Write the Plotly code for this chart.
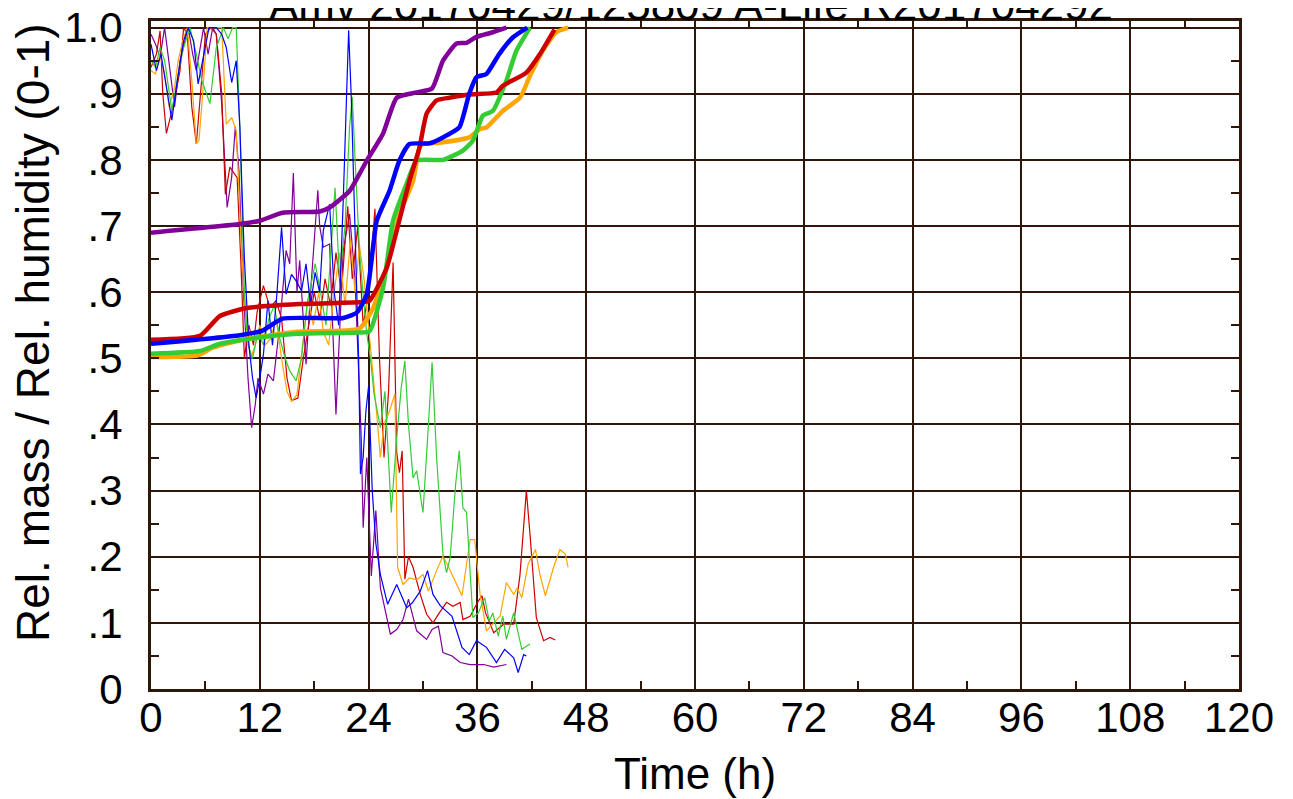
import plotly.graph_objects as go

# ---------------- data ----------------
# thick curves: relative mass
t_mass_purple = [0, 9.8, 12, 14.5, 18.6, 19.7, 21.9, 23, 23.8, 25.6, 27.1, 29.3, 31, 32.2, 33.7, 34.8, 35.9, 37.7, 39.2]
v_mass_purple = [0.69, 0.703, 0.708, 0.72, 0.722, 0.728, 0.753, 0.779, 0.799, 0.84, 0.894, 0.902, 0.908, 0.95, 0.976, 0.977, 0.986, 0.993, 1.0]

t_mass_red = [0, 5.4, 7.6, 10.6, 16.4, 23.4, 24.1, 26, 27.1, 28.5, 29.6, 30.4, 31.5, 32.9, 35.1, 38.1, 38.8, 41.4, 42.9, 44.5]
v_mass_red = [0.528, 0.534, 0.564, 0.576, 0.582, 0.585, 0.587, 0.637, 0.693, 0.768, 0.818, 0.87, 0.89, 0.894, 0.899, 0.902, 0.912, 0.932, 0.96, 0.997]

t_mass_blue = [0, 9.8, 12.3, 14.5, 21.2, 22.7, 23.8, 24.9, 26.3, 27.4, 28.5, 30.7, 32.2, 34, 35.1, 35.9, 37, 38.4, 39.9, 41.5]
v_mass_blue = [0.522, 0.535, 0.542, 0.56, 0.561, 0.569, 0.597, 0.708, 0.753, 0.799, 0.824, 0.825, 0.834, 0.849, 0.9, 0.925, 0.93, 0.96, 0.985, 1.0]

t_mass_green = [0, 5.4, 7.6, 11.7, 16.1, 23, 24.1, 25.6, 26.7, 28.2, 29.3, 32.2, 34.4, 35.5, 36.6, 37.7, 39.2, 40.3, 41.8]
v_mass_green = [0.507, 0.511, 0.522, 0.531, 0.537, 0.539, 0.541, 0.607, 0.708, 0.764, 0.799, 0.8, 0.814, 0.829, 0.867, 0.874, 0.92, 0.965, 1.0]

t_mass_orange = [0, 5.1, 6.8, 10.1, 16.1, 23, 24.5, 26, 27.4, 28.9, 29.6, 30, 31.8, 35.1, 36.3, 37, 38.8, 40.7, 41.8, 43.2, 44.7, 46]
v_mass_orange = [0.502, 0.504, 0.516, 0.528, 0.54, 0.545, 0.576, 0.637, 0.718, 0.768, 0.818, 0.824, 0.826, 0.834, 0.847, 0.849, 0.874, 0.894, 0.927, 0.965, 0.993, 1.0]

# thin curves: relative humidity
t_hum_red = [0, 0.6, 1.0, 1.3, 1.7, 2.5, 3.2, 3.6, 4.0, 4.5, 5.0, 5.5, 6.0, 6.6, 7.2, 7.8, 8.2, 8.7, 9.5, 9.9,
             10.3, 10.8, 11.3, 11.7, 12.4, 13.1, 13.8, 14.4, 15.0, 15.5, 16.2, 16.8, 17.4, 18.0, 18.6, 19.2, 19.8,
             20.4, 21.0, 21.7, 22.2, 22.8, 23.4, 24.0, 24.7, 25.2, 25.7, 26.2, 26.7, 27.1, 27.4, 27.7, 28.0, 28.4,
             28.9, 29.7, 30.4, 31.1, 31.8, 32.6, 33.3, 34.1, 34.4, 35.2, 36.1, 36.5, 36.9, 37.8, 38.9, 40.0, 40.7,
             41.4, 41.8, 42.5, 43.3, 44.0, 44.6]
v_hum_red = [0.94, 0.96, 0.995, 0.90, 0.84, 0.885, 0.935, 1.0, 0.99, 0.88, 0.824, 0.91, 0.99, 1.0, 0.99, 0.90, 0.748,
             0.789, 0.773, 0.65, 0.50, 0.55, 0.52, 0.57, 0.61, 0.577, 0.587, 0.56, 0.47, 0.436, 0.44, 0.50, 0.55,
             0.60, 0.56, 0.62, 0.58, 0.66, 0.60, 0.73, 0.62, 0.70, 0.55, 0.60, 0.726, 0.50, 0.35, 0.45, 0.645, 0.357,
             0.327, 0.36, 0.166, 0.20, 0.184, 0.143, 0.113, 0.10, 0.115, 0.131, 0.125, 0.131, 0.105, 0.11, 0.133,
             0.141, 0.115, 0.085, 0.098, 0.098, 0.173, 0.30, 0.234, 0.108, 0.073, 0.078, 0.074]

t_hum_orange = [0, 0.5, 1.0, 1.5, 2.0, 2.6, 3.0, 3.5, 4.0, 4.5, 5.0, 5.3, 5.7, 6.2, 7.0, 7.8, 8.3, 8.9, 9.4, 10.0,
                10.5, 11.0, 11.5, 12.0, 12.6, 13.2, 13.8, 14.4, 15.0, 15.5, 16.1, 16.7, 17.3, 17.9, 18.5, 19.0,
                19.6, 20.2, 20.8, 21.4, 22.0, 22.5, 23.0, 23.5, 24.0, 24.5, 24.9, 25.3, 25.7, 26.3, 26.9, 27.2,
                27.8, 28.5, 29.3, 30.0, 30.6, 31.5, 32.2, 32.8, 33.4, 34.3, 35.2, 35.7, 36.3, 37.0, 37.8, 38.5,
                39.2, 40.0, 40.4, 40.9, 41.6, 42.4, 42.9, 43.5, 44.4, 45.1, 45.7, 46.0]
v_hum_orange = [0.935, 0.93, 0.96, 0.93, 0.88, 0.91, 0.95, 0.98, 1.0, 0.92, 0.824, 0.83, 0.90, 1.0, 1.0, 1.0, 0.854,
                0.864, 0.844, 0.66, 0.55, 0.50, 0.52, 0.55, 0.52, 0.53, 0.56, 0.50, 0.45, 0.435, 0.445, 0.52,
                0.59, 0.55, 0.60, 0.54, 0.52, 0.60, 0.66, 0.58, 0.68, 0.60, 0.67, 0.62, 0.55, 0.48, 0.415, 0.35,
                0.40, 0.42, 0.446, 0.184, 0.158, 0.168, 0.165, 0.173, 0.148, 0.179, 0.201, 0.185, 0.168, 0.141,
                0.226, 0.226, 0.143, 0.088, 0.10, 0.11, 0.161, 0.143, 0.153, 0.138, 0.189, 0.211, 0.173, 0.141,
                0.184, 0.211, 0.204, 0.184]

t_hum_green = [0, 0.5, 1.0, 1.5, 2.3, 3.0, 3.6, 4.3, 5.0, 5.6, 6.5, 7.2, 8.0, 8.5, 9.0, 9.4, 9.8, 10.3, 10.7, 11.2,
               11.8, 12.4, 13.0, 13.6, 14.2, 14.8, 15.3, 16.0, 16.6, 17.2, 18.1, 18.7, 19.3, 19.8, 20.3, 20.8,
               21.4, 21.9, 22.2, 22.5, 23.0, 23.5, 23.8, 24.2, 24.6, 25.3, 25.8, 26.5, 27.1, 27.6, 28.0, 28.4,
               28.9, 29.3, 30.0, 30.6, 31.0, 31.5, 32.2, 32.6, 33.0, 33.6, 34.0, 34.4, 34.8, 35.5, 36.1, 36.8,
               37.3, 37.7, 38.3, 38.8, 39.2, 40.0, 40.9, 41.8]
v_hum_green = [0.95, 0.94, 0.97, 0.95, 0.875, 0.93, 0.97, 1.0, 0.96, 0.92, 0.885, 0.97, 1.0, 0.983, 1.0, 1.0, 0.85,
               0.60, 0.52, 0.50, 0.54, 0.52, 0.56, 0.58, 0.53, 0.50, 0.481, 0.466, 0.50, 0.58, 0.643, 0.60, 0.55,
               0.66, 0.758, 0.62, 0.70, 0.85, 0.895, 0.804, 0.66, 0.58, 0.537, 0.50, 0.446, 0.395, 0.45, 0.267,
               0.38, 0.456, 0.496, 0.40, 0.319, 0.33, 0.267, 0.40, 0.494, 0.35, 0.204, 0.176, 0.199, 0.31, 0.36,
               0.274, 0.267, 0.108, 0.115, 0.138, 0.103, 0.115, 0.08, 0.11, 0.075, 0.115, 0.06, 0.068]

t_hum_blue = [0, 0.3, 0.6, 1.1, 1.7, 2.3, 2.9, 3.6, 4.1, 4.7, 5.2, 5.8, 6.4, 7.2, 7.8, 8.3, 8.9, 9.4, 9.8, 10.3,
              10.8, 11.2, 11.6, 12.0, 12.4, 12.9, 13.4, 13.9, 14.4, 14.9, 15.5, 16.0, 16.6, 17.1, 17.6, 18.1,
              18.6, 19.0, 19.7, 20.2, 20.7, 21.2, 21.8, 22.1, 22.5, 22.9, 23.1, 23.4, 23.7, 24.0, 24.4, 24.8,
              25.3, 26.1, 27.1, 28.2, 28.8, 29.7, 30.5, 31.1, 31.9, 33.2, 34.3, 35.1, 35.9, 37.0, 38.1, 39.0,
              40.0, 40.5, 41.1, 41.4]
v_hum_blue = [0.975, 0.955, 0.935, 0.96, 0.91, 0.86, 0.92, 0.98, 1.0, 0.98, 0.915, 0.955, 1.0, 1.0, 0.99, 0.97,
              0.917, 0.95, 0.85, 0.65, 0.52, 0.47, 0.44, 0.47, 0.506, 0.587, 0.52, 0.60, 0.698, 0.597, 0.627,
              0.617, 0.602, 0.643, 0.58, 0.63, 0.60, 0.693, 0.733, 0.60, 0.55, 0.738, 0.996, 0.89, 0.70, 0.50,
              0.325, 0.35, 0.42, 0.458, 0.30, 0.22, 0.173, 0.128, 0.158, 0.123, 0.13, 0.148, 0.179, 0.143, 0.126,
              0.11, 0.063, 0.052, 0.073, 0.063, 0.04, 0.06, 0.047, 0.025, 0.052, 0.05]

t_hum_purple = [0, 0.5, 1.0, 1.5, 2.1, 2.6, 3.2, 4.1, 4.6, 5.0, 5.8, 6.3, 6.8, 7.2, 7.8, 8.2, 8.4, 8.9, 9.3, 9.7,
                10.2, 10.7, 11.1, 11.5, 11.8, 12.4, 12.9, 13.5, 14.2, 14.9, 15.3, 15.7, 16.1, 16.4, 17.1, 17.6,
                18.0, 18.4, 18.6, 19.0, 19.7, 20.4, 21.2, 21.9, 22.5, 23.2, 23.4, 23.8, 24.3, 24.8, 25.3, 25.8,
                26.4, 27.1, 27.8, 28.4, 29.3, 30.4, 31.0, 31.7, 32.2, 33.2, 34.1, 35.2, 36.7, 37.8, 38.5, 39.2]
v_hum_purple = [0.99, 0.975, 0.955, 1.0, 0.935, 0.88, 0.95, 1.0, 0.96, 0.935, 1.0, 0.96, 1.0, 0.99, 0.885, 0.784,
                0.728, 0.774, 0.85, 0.784, 0.60, 0.47, 0.395, 0.43, 0.47, 0.446, 0.476, 0.466, 0.55, 0.663, 0.643,
                0.78, 0.60, 0.648, 0.491, 0.60, 0.68, 0.754, 0.70, 0.668, 0.673, 0.415, 0.663, 0.718, 0.62, 0.375,
                0.244, 0.35, 0.171, 0.27, 0.153, 0.123, 0.083, 0.09, 0.105, 0.136, 0.088, 0.075, 0.09, 0.095, 0.055,
                0.05, 0.04, 0.037, 0.037, 0.033, 0.035, 0.037]

x_tick_vals = [0, 12, 24, 36, 48, 60, 72, 84, 96, 108, 120]
y_tick_vals = [0, 0.1, 0.2, 0.3, 0.4, 0.5, 0.6, 0.7, 0.8, 0.9, 1.0]
y_tick_text = ["0", ".1", ".2", ".3", ".4", ".5", ".6", ".7", ".8", ".9", "1.0"]

title_text = "Amv 20170429/125809 A-Life R201704292"
x_title = "Time (h)"
y_title = "Rel. mass / Rel. humidity (0-1)"

# ---------------- styles ----------------
C_RED = "#cc0000"
C_ORANGE = "#ffa500"
C_GREEN = "#33cc33"
C_BLUE = "#0000ff"
C_PURPLE = "#800099"
GRID = "#2e1608"
FONT = "Liberation Sans, Arial, sans-serif"

fig = go.Figure()

thin = [
    (t_hum_purple, v_hum_purple, C_PURPLE),
    (t_hum_red, v_hum_red, C_RED),
    (t_hum_orange, v_hum_orange, C_ORANGE),
    (t_hum_green, v_hum_green, C_GREEN),
    (t_hum_blue, v_hum_blue, C_BLUE),
]
for t, v, c in thin:
    fig.add_trace(go.Scatter(x=t, y=v, mode="lines", line=dict(color=c, width=1.2),
                             showlegend=False, hoverinfo="skip"))

thick = [
    (t_mass_purple, v_mass_purple, C_PURPLE),
    (t_mass_orange, v_mass_orange, C_ORANGE),
    (t_mass_green, v_mass_green, C_GREEN),
    (t_mass_red, v_mass_red, C_RED),
    (t_mass_blue, v_mass_blue, C_BLUE),
]
for t, v, c in thick:
    fig.add_trace(go.Scatter(x=t, y=v, mode="lines",
                             line=dict(color=c, width=4.5, shape="spline", smoothing=0.5),
                             showlegend=False, hoverinfo="skip"))

# page body has an 8 px margin, so the figure is placed 8 px right and down
fig.update_layout(
    width=1293, height=799,
    margin=dict(l=143, r=62, t=13, b=118, autoexpand=False),
    paper_bgcolor="white", plot_bgcolor="white",
    font=dict(family=FONT, color="black"),
)
fig.add_annotation(text=title_text, xref="paper", yref="paper", x=0.496, y=1.0,
                   xanchor="center", yanchor="bottom", yshift=-10, showarrow=False,
                   font=dict(size=44, family=FONT, color="black"))
fig.add_annotation(text=x_title, xref="paper", yref="paper", x=0.5, y=0.0,
                   xanchor="center", yanchor="middle", yshift=-84, showarrow=False,
                   font=dict(size=44, family=FONT, color="black"))
fig.add_annotation(text=y_title, xref="paper", yref="paper", x=0.0, y=0.533,
                   xanchor="center", yanchor="middle", xshift=-118, textangle=-90, showarrow=False,
                   font=dict(size=46, family=FONT, color="black"))

fig.update_xaxes(
    range=[0, 120], tickvals=x_tick_vals, ticks="inside", ticklen=8, tickwidth=2, tickcolor=GRID,
    showgrid=True, gridcolor=GRID, gridwidth=2, automargin=False, ticklabeloverflow="allow",
    showline=True, linecolor=GRID, linewidth=3, mirror="allticks",
    minor=dict(dtick=6, ticks="inside", ticklen=8, tickwidth=2, tickcolor=GRID, showgrid=False),
    tickfont=dict(size=42, family=FONT, color="black"), ticklabelstandoff=-10,
    zeroline=False,
)
fig.update_yaxes(
    range=[0, 1.01], tickvals=y_tick_vals, ticktext=y_tick_text, ticks="inside", ticklen=8, tickwidth=2,
    tickcolor=GRID, showgrid=True, gridcolor=GRID, gridwidth=2, automargin=False, ticklabeloverflow="allow",
    showline=True, linecolor=GRID, linewidth=3, mirror="allticks",
    minor=dict(dtick=0.05, ticks="inside", ticklen=8, tickwidth=2, tickcolor=GRID, showgrid=False),
    tickfont=dict(size=42, family=FONT, color="black"), ticklabelstandoff=17,
    zeroline=False,
)

fig.write_html("out.html")
